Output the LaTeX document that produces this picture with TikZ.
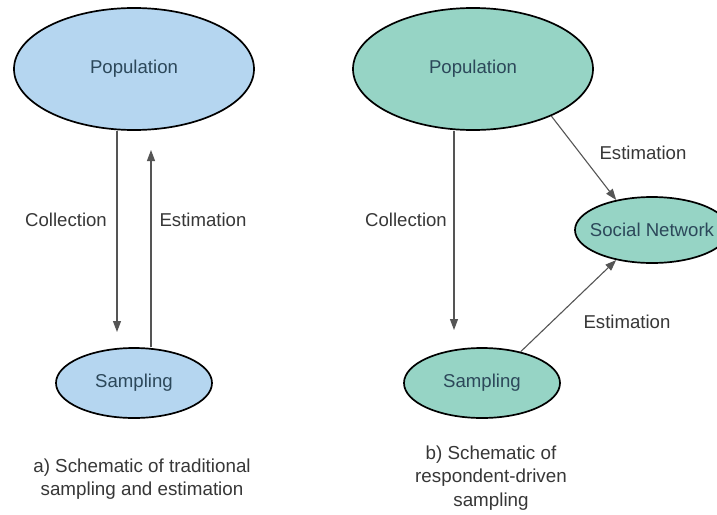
\documentclass[tikz,border=0pt]{standalone}
\usepackage{fontspec}
\setmainfont{Liberation Sans}
\usetikzlibrary{arrows.meta,shapes.geometric}
\definecolor{blueFill}{RGB}{181,214,240}
\definecolor{tealFill}{RGB}{150,212,197}
\definecolor{nodeText}{RGB}{44,72,90}
\definecolor{labText}{RGB}{55,55,55}
\definecolor{lineGray}{RGB}{85,85,85}
\tikzset{
  ell/.style={ellipse, draw=black, line width=1.7pt, inner sep=0pt, text=nodeText,
    font=\fontsize{18.6}{22}\selectfont},
  arr/.style={draw=lineGray, line width=1.1pt, -{Triangle[length=11pt,width=8pt]}},
  lab/.style={text=labText, font=\fontsize{18.6}{22}\selectfont, inner sep=0pt},
  captext/.style={text=labText, font=\fontsize{18.8}{23.5}\selectfont, align=center, inner sep=0pt}
}
\begin{document}
\begin{tikzpicture}[x=1pt,y=-1pt]
\useasboundingbox[fill=white] (0,0) rectangle (717,514);
% left
\node[ell, fill=blueFill, minimum width=240pt, minimum height=122pt] (popL) at (134,69) {\makebox[0pt]{Population}};
\node[ell, fill=blueFill, minimum width=156pt, minimum height=70pt] (sampL) at (134,383) {\makebox[0pt]{Sampling}};
\coordinate (cL) at (117,332);
\coordinate (eL) at (151,150);
\draw[arr] ([xshift=-17pt]popL.south) -- (cL);
\draw[arr] ([xshift=17pt]sampL.north) -- (eL);
\node[lab] (colL) at (66,220) {Collection};
\node[lab] (estL) at (203,220) {Estimation};
\node[captext] (capA) at (142,479) {a) Schematic of traditional\\sampling and estimation};
% right
\node[ell, fill=tealFill, minimum width=240pt, minimum height=122pt] (popR) at (473,69) {\makebox[0pt]{Population}};
\node[ell, fill=tealFill, minimum width=156pt, minimum height=70pt] (sampR) at (482,383) {\makebox[0pt]{Sampling}};
\node[ell, fill=tealFill, minimum width=154pt, minimum height=66pt] (soc) at (652,230) {\makebox[0pt]{Social Network}};
\coordinate (cR) at (454,330);
\draw[arr] ([xshift=-19pt]popR.south) -- (cR);
\draw[arr] (popR.-31) -- (soc.140);
\draw[arr] (sampR.39) -- (soc.-140);
\node[lab] (colR) at (406,220) {Collection};
\node[lab] (estR1) at (643,153) {Estimation};
\node[lab] (estR2) at (627,322) {Estimation};
\node[captext] (capB) at (491,478) {b) Schematic of\\respondent-driven\\sampling};
\end{tikzpicture}
\end{document}
